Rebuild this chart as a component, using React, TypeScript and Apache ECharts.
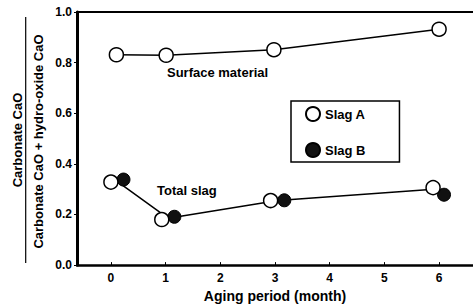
import React, { useEffect, useRef } from "react";
import * as echarts from "echarts";

const xTicks = [0, 1, 2, 3, 4, 5, 6];
const yTicks = [0, 0.2, 0.4, 0.6, 0.8, 1.0];

// Surface material (Slag A, open circles)
const surfaceA: [number, number][] = [
  [0.1, 0.831],
  [1.01, 0.829],
  [2.98, 0.851],
  [6.0, 0.932],
];

// Total slag
const totalA: [number, number][] = [
  [0.0, 0.328],
  [0.93, 0.18],
  [2.92, 0.255],
  [5.89, 0.306],
];
const totalB: [number, number][] = [
  [0.23, 0.338],
  [1.16, 0.191],
  [3.17, 0.256],
  [6.09, 0.278],
];
const totalLine: [number, number][] = [
  [0.12, 0.33],
  [1.05, 0.185],
  [3.05, 0.255],
  [5.9, 0.3],
];

const FONT = "Liberation Sans, Arial, sans-serif";

export default function App() {
  const ref = useRef<HTMLDivElement>(null);
  useEffect(() => {
    if (!ref.current) return;
    const chart = echarts.init(ref.current, undefined, { renderer: "svg" });
    chart.setOption({
      animation: false,
      backgroundColor: "#fff",
      grid: { left: 77, top: 12, right: 0, bottom: 41 },
      legend: {
        data: ["Slag A", "Slag B"],
        orient: "vertical",
        left: 291,
        top: 101,
        borderColor: "#000",
        borderWidth: 1.5,
        borderRadius: 0,
        padding: [5, 34, 4, 14],
        itemGap: 20,
        itemWidth: 14,
        itemHeight: 14,
        itemTextGap: 11,
        textStyle: { fontFamily: FONT, fontWeight: "bold", fontSize: 13, color: "#000" },
      },
      xAxis: [
        {
          type: "value",
          min: -0.62,
          max: 6.62,
          name: "Aging period (month)",
          nameLocation: "middle",
          nameGap: 21,
          nameTextStyle: { fontFamily: FONT, fontWeight: "bold", fontSize: 14, color: "#000" },
          axisLine: { show: true, onZero: false, lineStyle: { color: "#000", width: 2.5 } },
          axisTick: { show: true, inside: true, length: 3, customValues: xTicks, lineStyle: { color: "#000", width: 1 } },
          axisLabel: {
            customValues: xTicks,
            margin: 7,
            fontFamily: FONT,
            fontWeight: "bold",
            fontSize: 12,
            color: "#000",
          },
          splitLine: { show: false },
        },
        {
          type: "value",
          position: "top",
          min: -0.62,
          max: 6.62,
          axisLine: { show: true, onZero: false, lineStyle: { color: "#000", width: 2 } },
          axisTick: { show: false },
          axisLabel: { show: false },
          splitLine: { show: false },
        },
      ],
      yAxis: {
        type: "value",
        min: 0,
        max: 1,
        interval: 0.2,
        axisLine: { show: true, onZero: false, lineStyle: { color: "#000", width: 3 } },
        axisTick: { show: true, length: 3, lineStyle: { color: "#000", width: 1 } },
        axisLabel: {
          margin: 5,
          fontFamily: FONT,
          fontWeight: "bold",
          fontSize: 12,
          color: "#000",
          formatter: (v: number) => v.toFixed(1),
        },
        splitLine: { show: false },
      },
      series: [
        {
          name: "surfaceLine",
          type: "line",
          data: surfaceA,
          showSymbol: false,
          symbol: "none",
          lineStyle: { color: "#000", width: 1.5 },
          z: 1,
        },
        {
          name: "totalLine",
          type: "line",
          data: totalLine,
          showSymbol: false,
          symbol: "none",
          lineStyle: { color: "#000", width: 1.5 },
          z: 1,
        },
        {
          name: "Slag A",
          type: "scatter",
          data: [...surfaceA, ...totalA],
          symbol: "circle",
          symbolSize: 14,
          itemStyle: { color: "#fff", borderColor: "#000", borderWidth: 1.5, opacity: 1 },
          z: 3,
        },
        {
          name: "Slag B",
          type: "scatter",
          data: totalB,
          symbol: "circle",
          symbolSize: 13,
          itemStyle: { color: "#111", borderColor: "#000", borderWidth: 1, opacity: 1 },
          z: 2,
        },
      ],
      graphic: [
        {
          type: "text",
          left: 167,
          top: 66,
          style: { text: "Surface material", fontFamily: FONT, fontWeight: "bold", fontSize: 13, fill: "#000" },
        },
        {
          type: "text",
          left: 157,
          top: 184,
          style: { text: "Total slag", fontFamily: FONT, fontWeight: "bold", fontSize: 13, fill: "#000" },
        },
        {
          type: "text",
          x: 17,
          y: 140,
          rotation: Math.PI / 2,
          style: {
            text: "Carbonate CaO",
            fontFamily: FONT,
            fontWeight: "bold",
            fontSize: 13,
            fill: "#000",
            align: "center",
            verticalAlign: "middle",
          },
        },
        {
          type: "line",
          shape: { x1: 25.7, y1: 17, x2: 25.7, y2: 263 },
          style: { stroke: "#000", lineWidth: 1.2 },
        },
        {
          type: "text",
          x: 38,
          y: 141.5,
          rotation: Math.PI / 2,
          style: {
            text: "Carbonate CaO + hydro-oxide CaO",
            fontFamily: FONT,
            fontWeight: "bold",
            fontSize: 13,
            fill: "#000",
            align: "center",
            verticalAlign: "middle",
          },
        },
      ],
    });
    return () => chart.dispose();
  }, []);
  return <div ref={ref} style={{ width: 473, height: 308, position: "fixed", left: 0, top: 0 }} />;
}
